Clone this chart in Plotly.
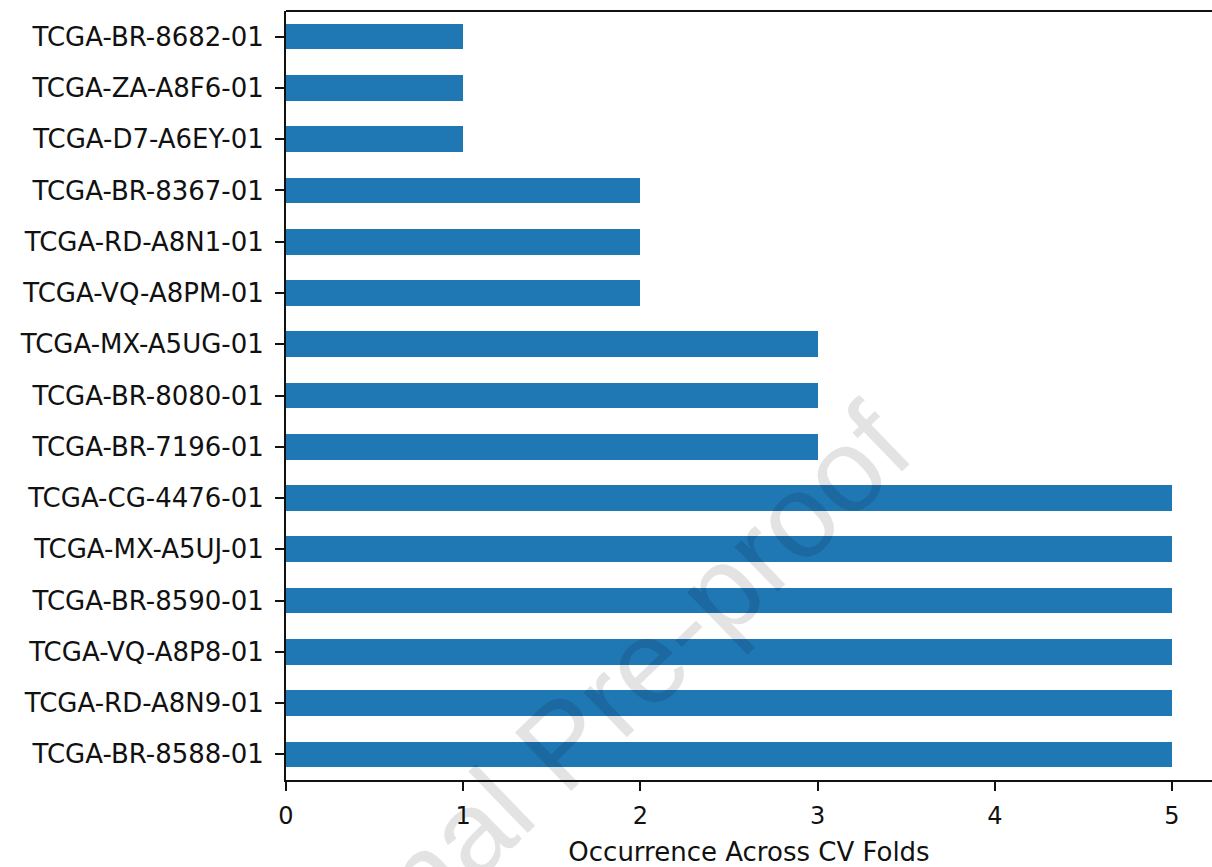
import plotly.graph_objects as go

# Samples listed from bottom to top of the chart
samples = [
    "TCGA-BR-8588-01", "TCGA-RD-A8N9-01", "TCGA-VQ-A8P8-01", "TCGA-BR-8590-01",
    "TCGA-MX-A5UJ-01", "TCGA-CG-4476-01", "TCGA-BR-7196-01", "TCGA-BR-8080-01",
    "TCGA-MX-A5UG-01", "TCGA-VQ-A8PM-01", "TCGA-RD-A8N1-01", "TCGA-BR-8367-01",
    "TCGA-D7-A6EY-01", "TCGA-ZA-A8F6-01", "TCGA-BR-8682-01",
]
occurrences = [5, 5, 5, 5, 5, 5, 3, 3, 3, 2, 2, 2, 1, 1, 1]
x_ticks = [0, 1, 2, 3, 4, 5]

W, H = 1212, 867
L, R, T, B = 286, 0, 11, 87

fig = go.Figure(
    go.Bar(
        x=occurrences,
        y=samples,
        orientation="h",
        width=0.5,
        marker=dict(color="#1f77b4", line=dict(width=0)),
        showlegend=False,
    )
)

ink = "#111111"

fig.update_layout(
    width=W,
    height=H,
    margin=dict(l=L, r=R, t=T, b=B, pad=0),
    plot_bgcolor="white",
    paper_bgcolor="white",
    font=dict(family="DejaVu Sans", size=26, color=ink),
    bargap=0,
    xaxis=dict(
        range=[0, 5.2257],
        tickvals=x_ticks,
        ticktext=[str(v) for v in x_ticks],
        ticks="outside",
        ticklen=9,
        tickwidth=2,
        tickcolor=ink,
        showline=True,
        linecolor=ink,
        linewidth=2,
        showgrid=False,
        zeroline=False,
        ticklabelstandoff=4,
        tickfont=dict(family="DejaVu Sans", size=24, color=ink),
        title=dict(text="Occurrence Across CV Folds", standoff=16,
                   font=dict(family="DejaVu Sans", size=26, color=ink)),
    ),
    yaxis=dict(
        type="category",
        categoryorder="array",
        categoryarray=samples,
        range=[-0.5, 14.5],
        ticks="outside",
        ticklen=9,
        tickwidth=2,
        tickcolor=ink,
        showline=True,
        linecolor=ink,
        linewidth=2,
        showgrid=False,
        zeroline=False,
        ticklabelstandoff=6,
        tickfont=dict(family="DejaVu Sans", size=26, color=ink),
    ),
    shapes=[
        # top spine
        dict(type="line", xref="paper", yref="paper", x0=0, x1=1, y0=1, y1=1,
             line=dict(color=ink, width=2)),
    ],
    annotations=[
        dict(
            text="Journal Pre-proof",
            xref="paper", yref="paper",
            x=0.298, y=0.048,
            xanchor="center", yanchor="middle",
            showarrow=False,
            textangle=-44,
            font=dict(family="Liberation Sans", size=118, color="rgba(0,0,0,0.11)"),
        )
    ],
)

fig.write_html("out.html")
